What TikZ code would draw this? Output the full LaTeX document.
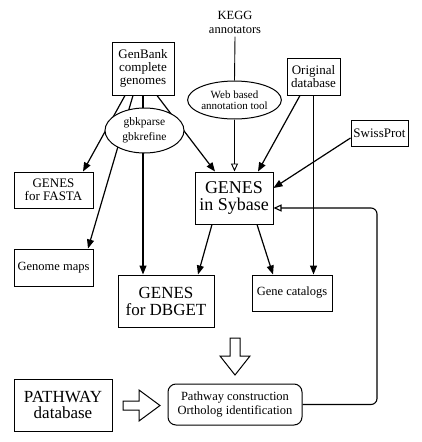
\documentclass[tikz,border=0pt]{standalone}
\usepackage{fontspec}
\setmainfont{Liberation Serif}
\usetikzlibrary{arrows.meta,shapes.geometric,backgrounds}

\begin{document}
\begin{tikzpicture}[x=1pt,y=-1pt,
  box/.style={draw, line width=1pt, align=center, inner sep=0pt,
    font=\fontsize{13}{13}\selectfont},
  bigbox/.style={box, font=\fontsize{18}{17}\selectfont},
  oval/.style={draw, ellipse, line width=1pt, align=center, inner sep=0pt,
    fill=white, font=\fontsize{11}{11}\selectfont},
  feed/.style={line width=1.2pt, -{Triangle[length=9pt, width=7pt]}},
  hollow/.style={line width=0.9pt, -{Triangle[open, length=8pt, width=7pt]}},
  fat/.style={draw, line width=1pt, fill=white}]
\useasboundingbox (0,0) rectangle (421,442);
% sources
\node[font=\fontsize{12.5}{14}\selectfont, align=center] (kegg) at (235,22) {KEGG\\annotators};
\node[box, minimum width=62, minimum height=53] (genbank) at (143,68.5) {GenBank\\complete\\genomes};
\node[oval, minimum width=83, minimum height=38] (web) at (234.5,100) {Web based\\annotation tool};
\node[box, minimum width=53, minimum height=37] (orig) at (313.5,76.5) {Original\\database};
\node[box, minimum width=57, minimum height=26] (swiss) at (379.5,133) {SwissProt};
\node[oval, minimum width=79, minimum height=45, font=\fontsize{11.5}{15}\selectfont] (gbk) at (144.5,130.5) {gbkparse\\gbkrefine};
% products
\node[box, minimum width=79, minimum height=36] (fasta) at (53.5,190) {GENES\\for FASTA};
\node[bigbox, minimum width=78, minimum height=52] (sybase) at (234,198) {GENES\\in Sybase};
\node[box, minimum width=79, minimum height=37, font=\fontsize{12.5}{13}\selectfont] (maps) at (53.5,267.5) {Genome maps};
\node[bigbox, minimum width=96, minimum height=52, font=\fontsize{17}{17}\selectfont] (dbget) at (166,301) {GENES\\for DBGET};
\node[box, minimum width=80, minimum height=36, font=\fontsize{12.5}{13}\selectfont] (catalogs) at (292,293) {Gene catalogs};
% pathway part
\node[bigbox, minimum width=98, minimum height=52, font=\fontsize{17}{16}\selectfont] (pathway) at (63,405) {PATHWAY\\database};
\node[box, rounded corners=8pt, minimum width=134, minimum height=41, font=\fontsize{12.5}{14}\selectfont] (constr) at (235,404.5) {Pathway construction\\Ortholog identification};
\coordinate (rim) at (377,208);

% lines under the gbkparse oval
\begin{scope}[on background layer]
\draw[feed] ([xshift=-18pt]genbank.south) -- ([xshift=29.5pt]fasta.north);
\draw[feed] ([xshift=-10pt]genbank.south) -- ([xshift=34.5pt]maps.north);
\draw[feed] (genbank.south) -- (genbank.south |- dbget.north);
\draw[feed] ([xshift=14pt]genbank.south) -- ([xshift=-19pt]sybase.north);
\end{scope}
\draw[line width=0.9pt] (kegg.south) -- (web.north);
\draw[hollow] (web.south) -- (web.south |- sybase.north);
\draw[feed] ([xshift=-13.5pt]orig.south) -- ([xshift=24pt]sybase.north);
\draw[feed] (orig.south) -- (orig.south |- catalogs.north);
\draw[feed] ([yshift=-5pt]swiss.west) -- ([yshift=10pt]sybase.east);
\draw[feed] ([xshift=-22pt]sybase.south) -- ([xshift=32pt]dbget.north);
\draw[feed] ([xshift=23pt]sybase.south) -- ([xshift=-19pt]catalogs.north);
\draw[hollow, line width=1.1pt, rounded corners=6pt] (constr.east) -| (rim) -- ([yshift=-10pt]sybase.east);

% big open arrows
\draw[fat] (230,338) -- (240,338) -- (240,356) -- (250,356) -- (235,375) -- (220,356) -- (230,356) -- cycle;
\draw[fat] (123,401) -- (139,401) -- (139,390) -- (160,405.5) -- (139,421) -- (139,410) -- (123,410) -- cycle;
\end{tikzpicture}
\end{document}
